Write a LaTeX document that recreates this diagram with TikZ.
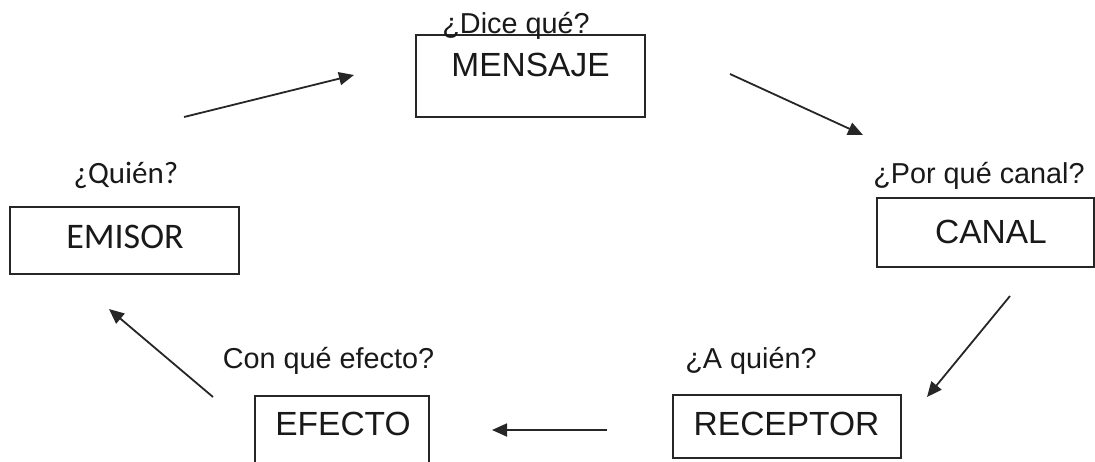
\documentclass[tikz,border=0pt]{standalone}
\usepackage{fontspec}
\setmainfont{Liberation Sans}
\newfontfamily\calib{Carlito}
\usetikzlibrary{arrows.meta}
\tikzset{
  box/.style={draw=black!85, line width=1.6pt, rectangle, inner sep=0pt},
  big/.style={font=\fontsize{33.5}{38}\selectfont, anchor=base, inner sep=0pt, text=black!90},
  small/.style={font=\fontsize{28.8}{32}\selectfont, anchor=base, inner sep=0pt, text=black!90},
  flow/.style={line width=1.8pt, draw=black!85, -{Triangle[length=15pt,width=13pt]}}
}
\begin{document}
\begin{tikzpicture}[x=1pt,y=-1pt]
\useasboundingbox (0,0) rectangle (1095,461);
% boxes
\node[box, minimum width=229pt, minimum height=82pt] (mensajebox) at (530.5,76) {};
\node[box, minimum width=229pt, minimum height=67pt] (emisorbox) at (124.5,240.5) {};
\node[box, minimum width=217pt, minimum height=69pt] (canalbox) at (985.5,232.5) {};
\node[box, minimum width=174pt, minimum height=80pt] (efectobox) at (342,436) {};
\node[box, minimum width=228pt, minimum height=63pt] (receptorbox) at (787,426.5) {};
% texts
\node[big] (mensaje) at (530.5,76) {MENSAJE};
\node[small] (dice) at (516,33) {¿Dice qué?};
\node[big, font=\calib\fontsize{36}{40}\selectfont] (emisor) at (125,248) {EMISOR};
\node[small, font=\calib\fontsize{31}{34}\selectfont] (quien) at (126,183) {¿Quién?};
\node[big] (canal) at (991,243) {CANAL};
\node[small] (porque) at (979,183) {¿Por qué canal?};
\node[big] (efecto) at (343,435) {EFECTO};
\node[small] (conque) at (328.5,368) {Con qué efecto?};
\node[big] (receptor) at (786.5,435) {RECEPTOR};
\node[small] (aquien) at (751,368) {¿A quién?};
% arrow ends
\coordinate (a1s) at (184,117); \coordinate (a1e) at (354,75);
\coordinate (a2s) at (730,74);  \coordinate (a2e) at (863,135);
\coordinate (a3s) at (1010,296); \coordinate (a3e) at (927,397);
\coordinate (a4s) at (607,430); \coordinate (a4e) at (492,430);
\coordinate (a5s) at (213,397); \coordinate (a5e) at (109,309);
\draw[flow] (a1s) -- (a1e);
\draw[flow] (a2s) -- (a2e);
\draw[flow] (a3s) -- (a3e);
\draw[flow] (a4s) -- (a4e);
\draw[flow] (a5s) -- (a5e);
\end{tikzpicture}
\end{document}
